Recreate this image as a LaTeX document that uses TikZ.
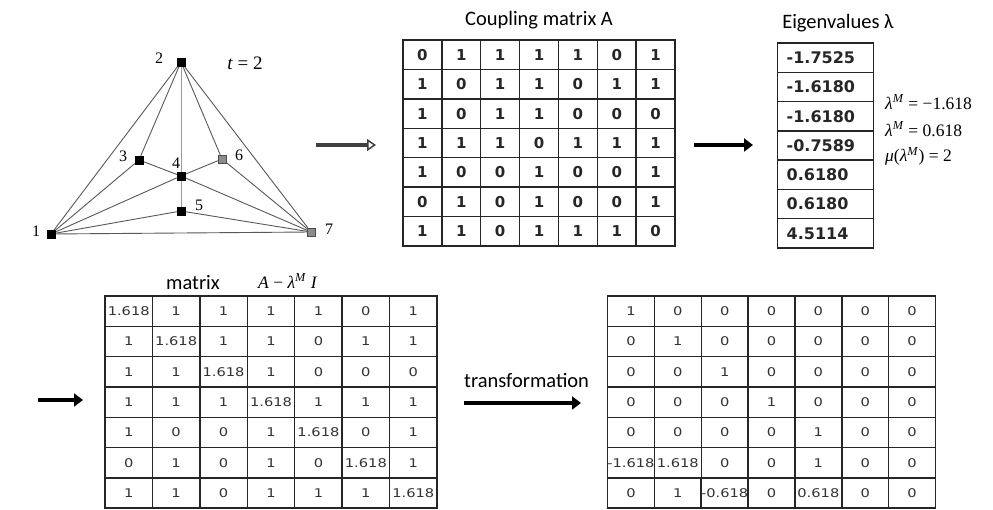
\documentclass[tikz,border=0pt]{standalone}
\usepackage{fontspec}
\setmainfont{Liberation Serif}
\newfontfamily\titlefont{Carlito}
\newfontfamily\cellfont{DejaVu Sans}
\newfontfamily\cellwide[FakeStretch=1.22]{DejaVu Sans}
\usetikzlibrary{arrows.meta}
\newcommand{\lamM}{\textit{λ}\textsuperscript{\textit{M}}}
\begin{document}
\begin{tikzpicture}[x=1pt,y=-1pt,
  vtx/.style={draw=black,fill=black,minimum size=8pt,inner sep=0pt},
  gvtx/.style={draw=black!70,fill=black!45,minimum size=8pt,inner sep=0pt},
  lbl/.style={font=\fontsize{16}{16}\selectfont,inner sep=0pt},
  edge/.style={draw=black!65,line width=0.9pt},
  vedge/.style={draw=black!40,line width=0.9pt},
  cellA/.style={draw=black!85,line width=1.4pt,minimum width=38.86pt,minimum height=29.4pt,inner sep=0pt,text=black!85,font=\cellfont\bfseries\fontsize{15}{15}\selectfont},
  cellE/.style={draw=black!85,line width=1.4pt,minimum width=96pt,minimum height=29.3pt,inner sep=0pt,text=black!85,font=\cellfont\bfseries\fontsize{16}{16}\selectfont},
  cellL/.style={draw=black!85,line width=1.4pt,minimum width=47.43pt,minimum height=30.3pt,inner sep=0pt,text=black!80,font=\cellwide\fontsize{12}{12}\selectfont},
  cellR/.style={draw=black!85,line width=1.4pt,minimum width=46.86pt,minimum height=30.3pt,inner sep=0pt,text=black!80,font=\cellwide\fontsize{12}{12}\selectfont},
  title/.style={font=\titlefont\fontsize{20.5}{20.5}\selectfont,inner sep=0pt},
  mathtxt/.style={anchor=west,inner sep=0pt,font=\fontsize{17.5}{17.5}\selectfont},
  bigarrow/.style={line width=4.5pt,-{Triangle[length=9pt,width=13pt]}},
  openarrow/.style={line width=3.5pt,draw=black!75,-{Triangle[open,length=9pt,width=12pt,line width=1.5pt]}}
]
\useasboundingbox[fill=white] (0,0) rectangle (993,510);

% ---------- graph ----------
\node[vtx]  (n2) at (181,62)  {};
\node[vtx]  (n3) at (139,160) {};
\node[vtx]  (n4) at (181,176) {};
\node[gvtx] (n6) at (222,159) {};
\node[vtx]  (n5) at (181,211) {};
\node[vtx]  (n1) at (51,234)  {};
\node[gvtx] (n7) at (311,232) {};
\path[edge] (n2) -- (n1);
\path[edge] (n2) -- (n3);
\path[vedge] (n2) -- (n4);
\path[edge] (n2) -- (n6);
\path[edge] (n2) -- (n7);
\path[edge] (n3) -- (n1);
\path[edge] (n3) -- (n4);
\path[edge] (n4) -- (n6);
\path[edge] (n4) -- (n1);
\path[edge] (n4) -- (n7);
\path[edge] (n6) -- (n7);
\path[vedge] (n4) -- (n5);
\path[edge] (n5) -- (n1);
\path[edge] (n5) -- (n7);
\path[edge] (n1) -- (n7);
\node[vtx]  at (n2) {};
\node[vtx]  at (n3) {};
\node[vtx]  at (n4) {};
\node[gvtx] at (n6) {};
\node[vtx]  at (n5) {};
\node[vtx]  at (n1) {};
\node[gvtx] at (n7) {};
\node[lbl] (l2) at (159,58) {2};
\node[lbl] (l3) at (123,156) {3};
\node[lbl] (l4) at (176,163) {4};
\node[lbl] (l6) at (239,155) {6};
\node[lbl] (l5) at (199,205) {5};
\node[lbl] (l1) at (36,231)  {1};
\node[lbl] (l7) at (329,229) {7};
\node[lbl,font=\fontsize{19}{19}\selectfont] (tl) at (245,63) {\textit{t} = 2};

% ---------- arrows ----------
\coordinate (a1s) at (316,145); \coordinate (a1e) at (376,145);
\draw[openarrow] (a1s) -- (a1e);
\coordinate (a2s) at (694,145); \coordinate (a2e) at (753,145);
\draw[bigarrow] (a2s) -- (a2e);
\coordinate (a3s) at (38,400); \coordinate (a3e) at (83,400);
\draw[bigarrow] (a3s) -- (a3e);
\coordinate (a4s) at (464,403); \coordinate (a4e) at (581,403);
\draw[bigarrow,line width=3.8pt] (a4s) -- (a4e);

% ---------- coupling matrix A ----------
\node[title] (tA) at (539,20) {Coupling matrix A};
\foreach \row [count=\r] in {{0,1,1,1,1,0,1},{1,0,1,1,0,1,1},{1,0,1,1,0,0,0},{1,1,1,0,1,1,1},{1,0,0,1,0,0,1},{0,1,0,1,0,0,1},{1,1,0,1,1,1,0}}{
  \foreach \v [count=\c] in \row {
    \node[cellA] (A-\r-\c) at ({403+38.86*(\c-0.5)},{40+29.43*(\r-0.5)}) {\v};
  }
}

% ---------- eigenvalues ----------
\node[title] (tE) at (838,23) {Eigenvalues λ};
\foreach \v [count=\r] in {-1.7525,-1.6180,-1.6180,-0.7589,0.6180,0.6180,4.5114}{
  \node[cellE,anchor=west,text width=86pt,align=left,inner xsep=5pt] (E-\r) at (777,{43+29.3*(\r-0.5)}) {\hspace*{4pt}\v};
}
\node[mathtxt] (m1) at (885,102) {\lamM\ = −1.618};
\node[mathtxt] (m2) at (885,129) {\lamM\ = 0.618};
\node[mathtxt] (m3) at (885,156) {\textit{μ}(\lamM) = 2};

% ---------- matrix A - lambda I ----------
\node[title,anchor=west] (tL) at (166,283) {matrix};
\node[mathtxt] (tL2) at (258,281) {\textit{A} − \lamM\ \textit{I}};
\foreach \row [count=\r] in {{1.618,1,1,1,1,0,1},{1,1.618,1,1,0,1,1},{1,1,1.618,1,0,0,0},{1,1,1,1.618,1,1,1},{1,0,0,1,1.618,0,1},{0,1,0,1,0,1.618,1},{1,1,0,1,1,1,1.618}}{
  \foreach \v [count=\c] in \row {
    \node[cellL] (L-\r-\c) at ({105+47.43*(\c-0.5)},{296+30.3*(\r-0.5)}) {\v};
  }
}

% ---------- transformed matrix ----------
\node[title,anchor=west] (tT) at (464,380) {transformation};
\foreach \row [count=\r] in {{1,0,0,0,0,0,0},{0,1,0,0,0,0,0},{0,0,1,0,0,0,0},{0,0,0,1,0,0,0},{0,0,0,0,1,0,0},{-1.618,1.618,0,0,1,0,0},{0,1,-0.618,0,0.618,0,0}}{
  \foreach \v [count=\c] in \row {
    \node[cellR] (R-\r-\c) at ({607.5+46.86*(\c-0.5)},{296+30.3*(\r-0.5)}) {\v};
  }
}
\end{tikzpicture}
\end{document}
